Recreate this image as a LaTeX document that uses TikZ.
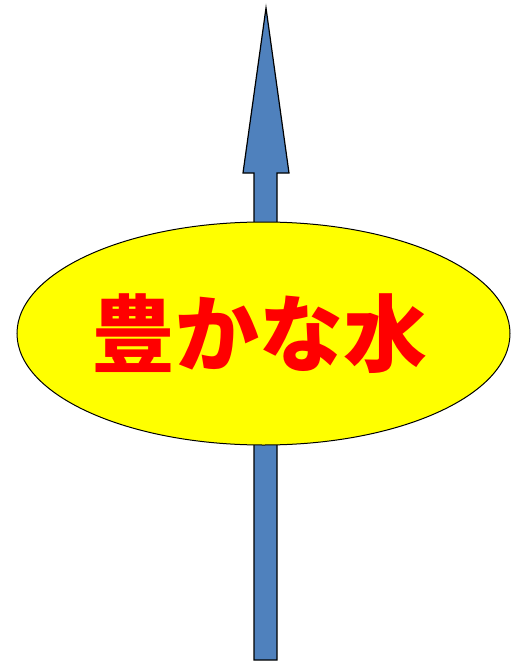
\documentclass[tikz,border=0pt]{standalone}
\usepackage{fontspec}
\newfontfamily\cjk{Noto Sans CJK JP}
\usepackage{tikz}
\usetikzlibrary{shapes.geometric}
\definecolor{arrowblue}{HTML}{4F81BD}
\definecolor{lakeyellow}{HTML}{FFFF00}
\definecolor{textred}{HTML}{FF0000}
\tikzset{
  upshape/.style={fill=arrowblue, draw=black, line width=1.2pt, line join=miter},
  waterbox/.style={ellipse, draw=black, fill=lakeyellow, line width=1pt,
    minimum width=493pt, minimum height=223pt, inner sep=0pt,
    text=textred, font=\cjk\bfseries\fontsize{84}{84}\selectfont},
}

\begin{document}
\begin{tikzpicture}[x=1pt,y=-1pt]
  \useasboundingbox (0,0) rectangle (511,663);
  % block arrow, drawn first so the ellipse covers it
  \draw [upshape] (254,660) -- (254,173) -- (243,173) -- (266,8)
    -- (289,173) -- (277,173) -- (277,660) -- cycle;
  \node [waterbox] (water) at (263.5,333.5) {\hspace*{-8pt}豊かな水};
\end{tikzpicture}
\end{document}
